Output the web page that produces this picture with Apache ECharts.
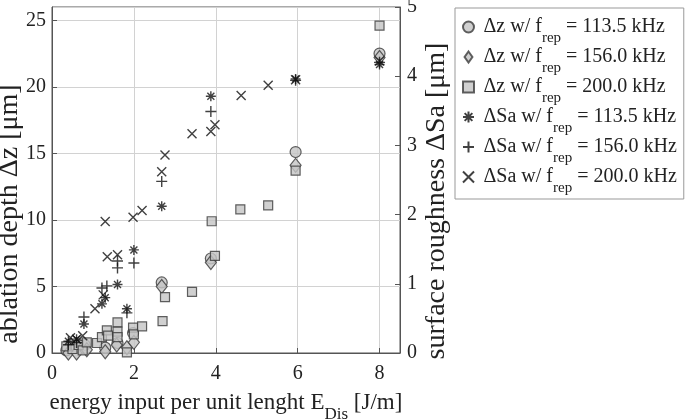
<!DOCTYPE html>
<html>
<head>
<meta charset="utf-8">
<script src="https://cdn.jsdelivr.net/npm/echarts@6/dist/echarts.min.js"></script>
<style>html,body{margin:0;padding:0;background:#fff}#c{width:685px;height:420px}</style>
</head>
<body>
<div id="c"></div>
<script>
// ---- data (x = energy input E_Dis [J/m]) ----
var dz113 = [[0.35,0.2],[0.6,0.45],[0.8,0.6],[1.3,0.4],[1.6,0.75],[1.98,1.5],[2.68,5.3],[3.88,7.1],[5.95,15.1],[8.0,22.5]];
var dz156 = [[0.4,0.0],[0.6,0.0],[0.85,0.25],[1.3,0.1],[1.58,0.6],[1.83,0.4],[2.0,0.8],[2.68,5.0],[3.88,6.8],[5.95,14.1],[8.0,22.2]];
var dz200 = [[0.35,0.5],[0.5,0.3],[0.65,0.6],[0.75,0.2],[0.85,0.8],[1.1,0.75],[1.22,1.2],[1.34,1.7],[1.37,1.3],[1.6,2.3],[1.6,1.6],[1.6,1.2],[1.83,0.05],[1.98,1.9],[2.0,1.4],[2.2,2.0],[2.7,2.4],[2.76,4.2],[3.42,4.6],[3.9,9.9],[3.98,7.3],[4.6,10.8],[5.28,11.1],[5.95,13.7],[8.0,24.6]];
var sa113 = [[0.4,0.17],[0.6,0.2],[0.78,0.42],[1.22,0.71],[1.3,0.8],[1.6,0.99],[1.83,0.64],[2.0,1.49],[2.68,2.12],[3.88,3.71],[5.95,3.96],[8.0,4.17]];
var sa156 = [[0.4,0.12],[0.6,0.15],[0.78,0.52],[1.22,0.94],[1.34,0.97],[1.6,1.33],[1.6,1.23],[1.83,0.58],[2.0,1.30],[2.68,2.48],[3.88,3.49],[5.95,3.94],[8.0,4.2]];
var sa200 = [[0.45,0.22],[0.6,0.2],[0.75,0.25],[1.05,0.64],[1.25,0.84],[1.3,1.9],[1.35,1.39],[1.6,1.42],[1.98,1.96],[2.2,2.06],[2.68,2.62],[2.76,2.86],[3.42,3.17],[3.88,3.2],[3.98,3.30],[4.62,3.72],[5.28,3.87],[5.95,3.95],[8.0,4.22]];
var legendNames = ['\u0394z w/ f_113.5','\u0394z w/ f_156.0','\u0394z w/ f_200.0','\u0394Sa w/ f_113.5','\u0394Sa w/ f_156.0','\u0394Sa w/ f_200.0'];
var xTicks = [0,2,4,6,8];
var leftTicks = [0,5,10,15,20,25];
var rightTicks = [0,1,2,3,4,5];

var FONT = 'Liberation Serif';
var TXT = '#222';
var markFill = '#c4c4c4', markEdge = '#3a3a3a';
var DIAMOND = 'path://M5,0L10,7L5,14L0,7Z';
var SQUARE = 'path://M0,0L10,0L10,10L0,10Z';
var ASTER = 'path://M5,0L5,10M0,5L10,5M1.5,1.5L8.5,8.5M8.5,1.5L1.5,8.5';
var PLUS = 'path://M5,0L5,10M0,5L10,5';
var CROSS = 'path://M0,0L10,10M10,0L0,10';

function filledStyle(){ return {color: markFill, borderColor: markEdge, borderWidth: 1.2}; }
function lineStyle(){ return {color: 'rgba(0,0,0,0)', borderColor: '#111', borderWidth: 1.4}; }

var chart = echarts.init(document.getElementById('c'), null, {renderer: 'canvas'});
var option = {
  animation: false,
  backgroundColor: '#fff',
  grid: {left: 52, right: 285, top: 7, bottom: 67, show: true, borderColor: '#555', borderWidth: 1,
         outerBoundsMode: 'none', containLabel: false},
  legend: {
    orient: 'vertical', left: 455, top: 8,
    padding: [9, 7, 3, 7],
    itemWidth: 20, itemHeight: 11, itemGap: 1,
    symbolKeepAspect: true,
    backgroundColor: '#fff', borderColor: '#999', borderWidth: 1,
    data: legendNames,
    formatter: function(n){
      var p = n.split('_');
      return '{a|' + p[0] + '}{s|rep}{a| = ' + p[1] + ' kHz}';
    },
    textStyle: {
      fontFamily: FONT, color: TXT, fontSize: 20,
      rich: {
        a: {fontFamily: FONT, color: TXT, fontSize: 20, lineHeight: 20, verticalAlign: 'middle'},
        s: {fontFamily: FONT, color: TXT, fontSize: 15, lineHeight: 38, verticalAlign: 'bottom'}
      }
    }
  },
  xAxis: {
    type: 'value', min: 0, max: 8.5, interval: 2,
    axisLine: {lineStyle: {color: '#555'}},
    axisTick: {inside: true, length: 5, lineStyle: {color: '#555'}},
    splitLine: {show: true, lineStyle: {color: '#d2d2d2', width: 1}},
    axisLabel: {fontFamily: FONT, fontSize: 20, color: TXT, margin: 11, showMaxLabel: false,
      formatter: function(v){ return xTicks.indexOf(v) >= 0 ? String(v) : ''; }},
    name: '{a|energy input per unit lenght E}{s|Dis}{a| [J/m]}',
    nameLocation: 'middle', nameGap: 30, nameMoveOverlap: false,
    nameTextStyle: {
      fontFamily: FONT, color: TXT, fontSize: 23,
      rich: {
        a: {fontFamily: FONT, color: TXT, fontSize: 23, lineHeight: 23, verticalAlign: 'middle'},
        s: {fontFamily: FONT, color: TXT, fontSize: 17, lineHeight: 40, verticalAlign: 'bottom'}
      }
    }
  },
  yAxis: [{
    type: 'value', min: 0, max: 26, interval: 5, position: 'left',
    axisLine: {show: true, lineStyle: {color: '#555'}},
    axisTick: {show: true, inside: true, length: 5, lineStyle: {color: '#555'}},
    splitLine: {show: true, lineStyle: {color: '#d2d2d2', width: 1}},
    axisLabel: {fontFamily: FONT, fontSize: 20, color: TXT, margin: 6, showMaxLabel: false,
      formatter: function(v){ return leftTicks.indexOf(v) >= 0 ? String(v) : ''; }},
    name: 'ablation depth \u0394z [\u03bcm]', nameLocation: 'middle', nameRotate: 90, nameGap: 28,
    nameMoveOverlap: false,
    nameTextStyle: {fontFamily: FONT, color: TXT, fontSize: 28, padding: [0, 68, 0, 0]}
  }, {
    type: 'value', min: 0, max: 5, interval: 1, position: 'right',
    axisLine: {show: true, lineStyle: {color: '#555'}},
    axisTick: {show: true, inside: true, length: 5, lineStyle: {color: '#555'}},
    splitLine: {show: false},
    axisLabel: {fontFamily: FONT, fontSize: 20, color: TXT, margin: 7,
      formatter: function(v){ return rightTicks.indexOf(v) >= 0 ? String(v) : ''; }},
    name: 'surface roughness \u0394Sa [\u03bcm]', nameLocation: 'middle', nameRotate: 90, nameGap: 23,
    nameMoveOverlap: false,
    nameTextStyle: {fontFamily: FONT, color: TXT, fontSize: 28, padding: [0, 42, 0, 0]}
  }],
  series: [
    {name: legendNames[0], type: 'scatter', yAxisIndex: 0, data: dz113, symbol: 'circle', symbolSize: 11, itemStyle: filledStyle()},
    {name: legendNames[1], type: 'scatter', yAxisIndex: 0, data: dz156, symbol: DIAMOND, symbolSize: [11, 14], itemStyle: filledStyle()},
    {name: legendNames[2], type: 'scatter', yAxisIndex: 0, data: dz200, symbol: SQUARE, symbolSize: 9, itemStyle: filledStyle()},
    {name: legendNames[3], type: 'scatter', yAxisIndex: 1, data: sa113, symbol: ASTER, symbolSize: 10, itemStyle: lineStyle()},
    {name: legendNames[4], type: 'scatter', yAxisIndex: 1, data: sa156, symbol: PLUS, symbolSize: 11, itemStyle: lineStyle()},
    {name: legendNames[5], type: 'scatter', yAxisIndex: 1, data: sa200, symbol: CROSS, symbolSize: 9, itemStyle: lineStyle()}
  ]
};
chart.setOption(option);
</script>
</body>
</html>
